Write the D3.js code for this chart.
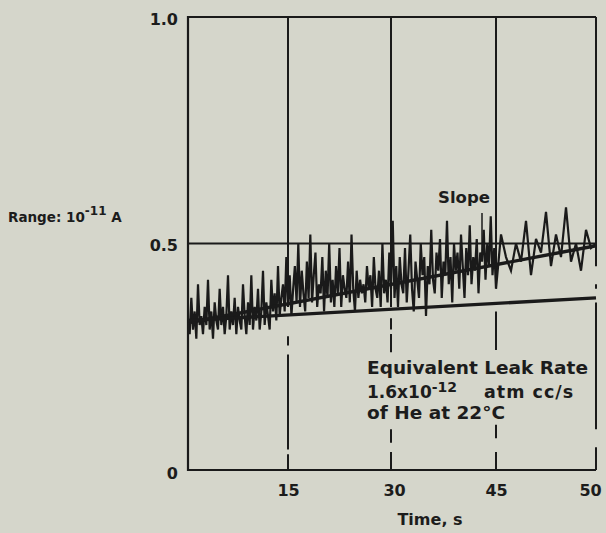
<!DOCTYPE html>
<html>
<head>
<meta charset="utf-8">
<script src="https://cdn.jsdelivr.net/npm/d3@7"></script>
<style>
  html, body { margin: 0; padding: 0; background: #d5d6cb; }
  svg { display: block; }
  text { font-family: "DejaVu Sans", "Liberation Sans", Arial, sans-serif; font-weight: bold; fill: #1c1c1c; }
</style>
</head>
<body>
<svg id="chart" width="606" height="533"></svg>
<script>
// Ion current recording, sampled every 0.25 s over 50 s
const sampleStep = 0.25;
const current = [
  0.33,0.30,0.38,0.31,0.35,0.29,0.41,0.32,
  0.34,0.30,0.36,0.32,0.42,0.31,0.35,0.29,
  0.37,0.33,0.31,0.40,0.32,0.36,0.30,0.34,
  0.43,0.31,0.35,0.32,0.38,0.30,0.36,0.33,
  0.31,0.41,0.34,0.30,0.37,0.32,0.43,0.31,
  0.36,0.33,0.40,0.31,0.35,0.44,0.32,0.37,
  0.34,0.31,0.42,0.35,0.39,0.33,0.45,0.34,
  0.38,0.41,0.35,0.47,0.36,0.43,0.34,0.40,
  0.45,0.37,0.50,0.36,0.44,0.39,0.35,0.46,
  0.38,0.52,0.37,0.43,0.48,0.36,0.41,0.39,
  0.47,0.35,0.44,0.38,0.50,0.37,0.42,0.36,
  0.45,0.39,0.49,0.36,0.43,0.40,0.38,0.46,
  0.37,0.52,0.40,0.35,0.44,0.38,0.42,0.39,
  0.41,0.37,0.45,0.40,0.43,0.36,0.47,0.40,
  0.38,0.44,0.36,0.50,0.39,0.42,0.37,0.48,
  0.40,0.55,0.38,0.45,0.36,0.47,0.41,0.39,
  0.49,0.37,0.44,0.52,0.40,0.35,0.46,0.42,
  0.38,0.50,0.43,0.47,0.34,0.45,0.41,0.53,
  0.42,0.39,0.48,0.44,0.51,0.38,0.46,0.43,
  0.55,0.41,0.47,0.37,0.50,0.44,0.48,0.40,
  0.52,0.45,0.38,0.49,0.43,0.54,0.41,0.47,
  0.44,0.51,0.39,0.48,0.46,0.53,0.42,0.50,
  0.45,0.56,0.43,0.49,0.40,0.52,0.47,0.44,
  0.50,0.46,0.55,0.43,0.51,0.48,0.57,0.45,
  0.52,0.47,0.58,0.46,0.50,0.44,0.53,0.49,
  0.50
];

// Fitted slope and the equivalent leak-rate line: [time, value] end points
const slopeLine = [[0, 0.325], [50, 0.495]];
const leakLine  = [[0, 0.33], [50, 0.38]];

// Axis ticks
const timeTicks  = [15, 30, 45, 50];
const levelTicks = [0, 0.5, 1.0];

// Chart-paper rulings: vertical lines at each time tick, drawn as broken pieces [from, to]
const rulings = [
  { t: 15, pieces: [[1.0, 0.37], [0.295, 0.275], [0.255, 0.045], [0.035, 0]] },
  { t: 30, pieces: [[1.0, 0.36], [0.335, 0.31], [0.30, 0.26], [0.09, 0.06], [0.04, 0]] },
  { t: 45, pieces: [[1.0, 0.42], [0.35, 0.265], [0.10, 0.07], [0.04, 0]] },
  { t: 50, pieces: [[1.0, 0.45], [0.41, 0.40], [0.37, 0.09], [0.05, 0]] }
];

const svg = d3.select("#chart");
const ink = "#1a1a1a";

// Chart paper time axis is not evenly ruled, so map it piecewise
const x = d3.scaleLinear().domain([0, 15, 30, 45, 50]).range([188, 288, 391, 496, 596]);
const y = d3.scaleLinear().domain([0, 1]).range([470, 17]);

// Frame: left, top, bottom edges
svg.append("path")
  .attr("d", `M${x(50)},${y(1)}H${x(0)}V${y(0)}H${x(50)}`)
  .attr("fill", "none").attr("stroke", ink).attr("stroke-width", 2.2);

// 0.5 ruling
svg.append("line")
  .attr("x1", x(0)).attr("x2", x(50)).attr("y1", y(0.5)).attr("y2", y(0.5))
  .attr("stroke", ink).attr("stroke-width", 1.8);

// Vertical rulings
rulings.forEach(r => {
  svg.append("g").selectAll("line").data(r.pieces).join("line")
    .attr("x1", x(r.t)).attr("x2", x(r.t))
    .attr("y1", d => y(d[0])).attr("y2", d => y(d[1]))
    .attr("stroke", ink).attr("stroke-width", 2);
});

// Recorded trace
const trace = current.map((v, i) => [i * sampleStep, v]);
const line = d3.line().x(d => x(d[0])).y(d => y(d[1]));
svg.append("path").datum(trace)
  .attr("d", line)
  .attr("fill", "none").attr("stroke", ink).attr("stroke-width", 2.2)
  .attr("stroke-linejoin", "miter");

// Straight lines
[slopeLine, leakLine].forEach(seg => {
  svg.append("path").datum(seg).attr("d", line)
    .attr("fill", "none").attr("stroke", ink).attr("stroke-width", 3.4);
});

// Axes (labels only; the frame carries the lines)
const xAxis = svg.append("g").attr("transform", `translate(0,${y(0)})`)
  .call(d3.axisBottom(x).tickValues(timeTicks).tickSize(0).tickPadding(15).tickFormat(d3.format("d")));
xAxis.select(".domain").remove();
xAxis.selectAll("text").attr("font-size", 16).attr("font-family", null).attr("fill", null)
  .attr("dx", d => d === 50 ? -6 : (d === 30 ? 3 : 0));

const yAxis = svg.append("g").attr("transform", `translate(${x(0)},0)`)
  .call(d3.axisLeft(y).tickValues(levelTicks).tickSize(0).tickPadding(10)
    .tickFormat(d => d === 0 ? "0" : d3.format(".1f")(d)));
yAxis.select(".domain").remove();
yAxis.selectAll("text").attr("font-size", 16).attr("font-family", null).attr("fill", null)
  .attr("dy", d => d === 0 ? "0.52em" : "0.45em");

// Axis title
svg.append("text").attr("x", 430).attr("y", 525).attr("text-anchor", "middle")
  .attr("font-size", 16).text("Time, s");

// Range note
const range = svg.append("text").attr("x", 8).attr("y", 222).attr("font-size", 13.5);
range.append("tspan").text("Range: 10");
range.append("tspan").attr("dy", -7).attr("font-size", 12).text("-11");
range.append("tspan").attr("dy", 7).text(" A");

// Slope label with leader
svg.append("text").attr("x", 438).attr("y", 203).attr("font-size", 16.5).text("Slope");
svg.append("line")
  .attr("x1", 482).attr("y1", 213)
  .attr("x2", x(43)).attr("y2", y(slopeLine[0][1] + (slopeLine[1][1] - slopeLine[0][1]) * 43 / 50))
  .attr("stroke", ink).attr("stroke-width", 1.5);

// Leak-rate note
const note = svg.append("g");
note.append("text").attr("x", 367).attr("y", 374).attr("font-size", 18.5).text("Equivalent Leak Rate");
const l2 = note.append("text").attr("x", 367).attr("y", 398).attr("font-size", 17);
l2.append("tspan").text("1.6x10");
l2.append("tspan").attr("dy", -6).attr("font-size", 14).text("-12");
l2.append("tspan").attr("dy", 6).attr("x", 484).attr("font-size", 17.5).attr("letter-spacing", 1).text("atm cc/s");
note.append("text").attr("x", 367).attr("y", 419).attr("font-size", 18.5).text("of He at 22°C");
</script>
</body>
</html>
